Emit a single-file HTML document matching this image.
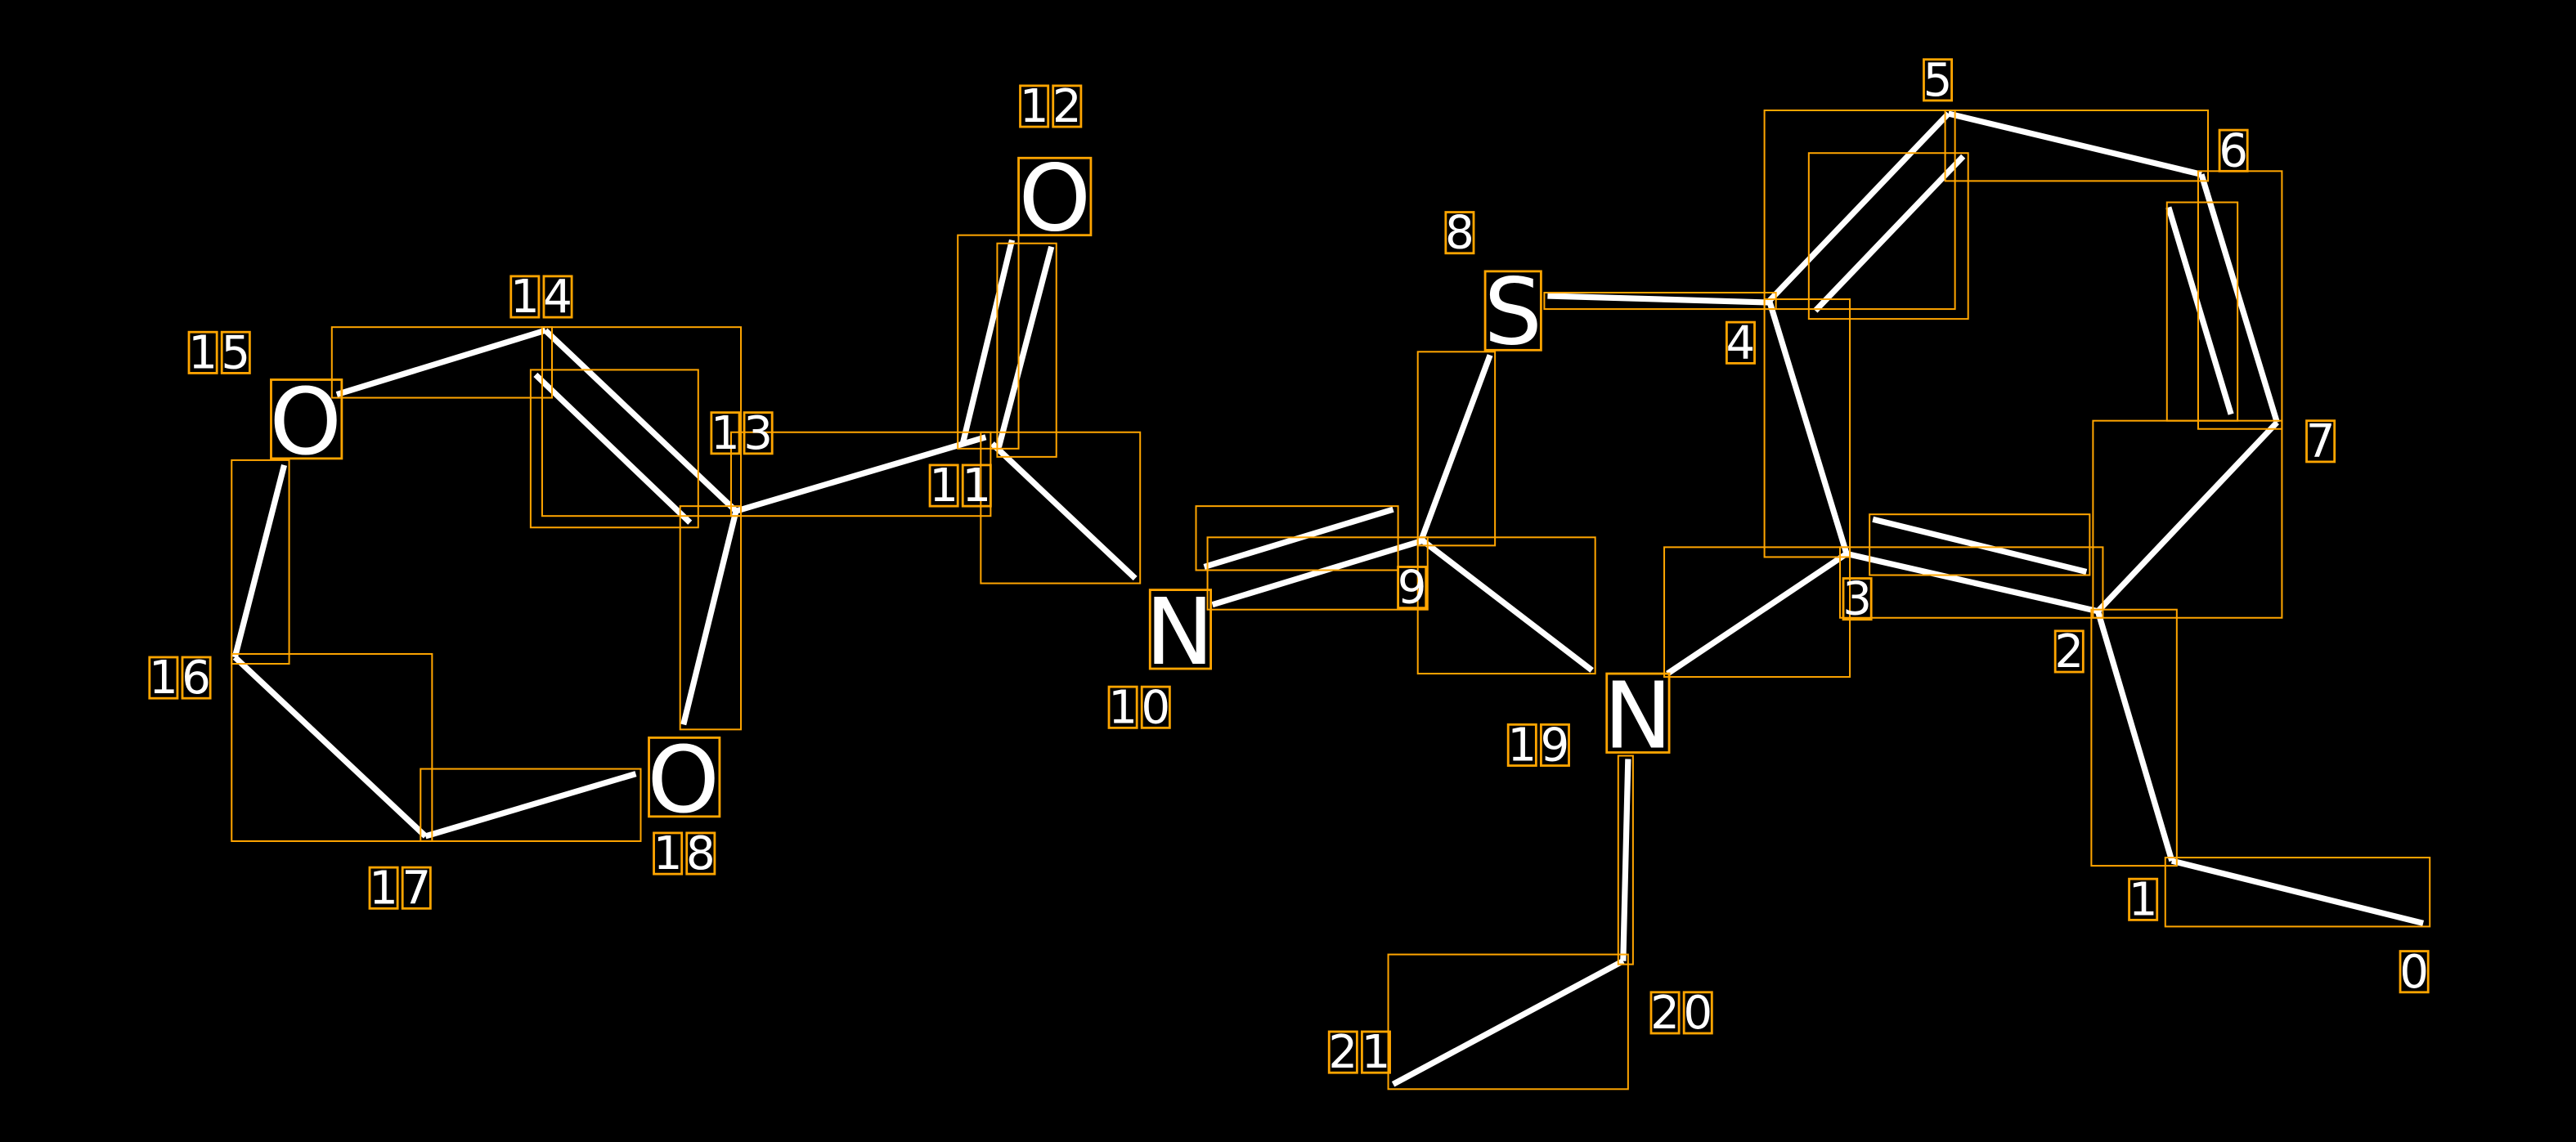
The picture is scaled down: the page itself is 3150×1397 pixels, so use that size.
<!DOCTYPE html>
<html><head><meta charset="utf-8"><style>
html,body{margin:0;padding:0;background:#000;width:3150px;height:1397px;overflow:hidden}
svg{display:block}
</style></head><body>
<svg width="3150" height="1397" viewBox="0 0 1568 695" xmlns="http://www.w3.org/2000/svg">
<rect width="1568" height="695" fill="#000"/>
<g stroke="#fff" stroke-width="3.6" stroke-linecap="butt" fill="none">
<line x1="1475" y1="562" x2="1322" y2="524"/>
<line x1="1322" y1="524" x2="1277" y2="372"/>
<line x1="1277" y1="372" x2="1386" y2="257"/>
<line x1="1386" y1="257" x2="1340" y2="106"/>
<line x1="1320" y1="126" x2="1358" y2="252"/>
<line x1="1340" y1="106" x2="1186" y2="69"/>
<line x1="1186" y1="69" x2="1077" y2="183"/>
<line x1="1195" y1="95" x2="1105" y2="189"/>
<line x1="1077" y1="183" x2="1124" y2="337"/>
<line x1="1124" y1="337" x2="1277" y2="372"/>
<line x1="1140" y1="316" x2="1270" y2="348"/>
<line x1="942" y1="180" x2="1077" y2="184"/>
<line x1="907" y1="216" x2="865" y2="329"/>
<line x1="866" y1="329" x2="738" y2="368"/>
<line x1="733" y1="345" x2="848" y2="310"/>
<line x1="866" y1="329" x2="969" y2="408"/>
<line x1="1124" y1="337" x2="1015" y2="410"/>
<line x1="991" y1="462" x2="988" y2="585"/>
<line x1="988" y1="585" x2="848" y2="660"/>
<line x1="586" y1="270" x2="616" y2="146"/>
<line x1="608" y1="272" x2="640" y2="150"/>
<line x1="600" y1="266" x2="448" y2="311"/>
<line x1="604" y1="270" x2="691" y2="352"/>
<line x1="448" y1="311" x2="332" y2="201"/>
<line x1="326" y1="228" x2="420" y2="318"/>
<line x1="332" y1="201" x2="205" y2="240"/>
<line x1="173" y1="283" x2="143" y2="400"/>
<line x1="143" y1="400" x2="259" y2="509"/>
<line x1="259" y1="509" x2="387" y2="471"/>
<line x1="448" y1="311" x2="416" y2="441"/>
</g>
<g stroke="#ffa500" stroke-width="1" fill="none">
<rect x="1318" y="522" width="161" height="42"/>
<rect x="1273" y="371" width="52" height="156"/>
<rect x="1274" y="256" width="115" height="120"/>
<rect x="1338" y="104" width="51" height="157"/>
<rect x="1319" y="123" width="43" height="133"/>
<rect x="1184" y="67" width="160" height="43"/>
<rect x="1074" y="67" width="116" height="121"/>
<rect x="1101" y="93" width="97" height="101"/>
<rect x="1074" y="182" width="52" height="157"/>
<rect x="940" y="178" width="141" height="10"/>
<rect x="1120" y="333" width="160" height="43"/>
<rect x="1138" y="313" width="134" height="37"/>
<rect x="863" y="214" width="47" height="118"/>
<rect x="728" y="308" width="123" height="39"/>
<rect x="735" y="327" width="134" height="44"/>
<rect x="863" y="327" width="108" height="83"/>
<rect x="1013" y="333" width="113" height="79"/>
<rect x="985" y="460" width="9" height="127"/>
<rect x="845" y="581" width="146" height="82"/>
<rect x="583" y="143" width="37" height="130"/>
<rect x="607" y="148" width="36" height="130"/>
<rect x="445" y="263" width="158" height="51"/>
<rect x="597" y="263" width="97" height="92"/>
<rect x="330" y="199" width="121" height="115"/>
<rect x="323" y="225" width="102" height="96"/>
<rect x="202" y="199" width="134" height="43"/>
<rect x="141" y="280" width="35" height="124"/>
<rect x="141" y="398" width="122" height="114"/>
<rect x="256" y="468" width="134" height="44"/>
<rect x="414" y="308" width="37" height="136"/>
</g>
<g stroke="#ffa500" stroke-width="1.4" fill="none">
<rect x="620" y="96" width="44" height="47"/>
<rect x="904" y="165" width="34" height="48"/>
<rect x="700" y="359" width="37" height="48"/>
<rect x="978" y="410" width="38" height="48"/>
<rect x="165" y="231" width="43" height="48"/>
<rect x="395" y="449" width="43" height="48"/>
</g>
<g fill="#fff" font-family="DejaVu Sans, Liberation Sans, sans-serif" font-size="56" text-anchor="middle">
<text x="642" y="140">O</text>
<text x="921" y="209">S</text>
<text x="718" y="404">N</text>
<text x="997" y="455">N</text>
<text x="186" y="276">O</text>
<text x="416" y="494">O</text>
</g>
<g stroke="#ffa500" stroke-width="1.4" fill="none">
<rect x="1461" y="579" width="17" height="25"/>
<rect x="1296" y="535" width="17" height="25"/>
<rect x="1251" y="384" width="17" height="25"/>
<rect x="1122" y="352" width="17" height="25"/>
<rect x="1051" y="196" width="17" height="25"/>
<rect x="1171" y="36" width="17" height="25"/>
<rect x="1351" y="79" width="17" height="25"/>
<rect x="1404" y="256" width="17" height="25"/>
<rect x="880" y="129" width="17" height="25"/>
<rect x="851" y="345" width="17" height="25"/>
<rect x="675" y="418" width="17" height="25"/><rect x="695" y="418" width="17" height="25"/>
<rect x="566" y="283" width="17" height="25"/><rect x="586" y="283" width="17" height="25"/>
<rect x="621" y="52" width="17" height="25"/><rect x="641" y="52" width="17" height="25"/>
<rect x="433" y="251" width="17" height="25"/><rect x="453" y="251" width="17" height="25"/>
<rect x="311" y="168" width="17" height="25"/><rect x="331" y="168" width="17" height="25"/>
<rect x="115" y="202" width="17" height="25"/><rect x="135" y="202" width="17" height="25"/>
<rect x="91" y="400" width="17" height="25"/><rect x="111" y="400" width="17" height="25"/>
<rect x="225" y="528" width="17" height="25"/><rect x="245" y="528" width="17" height="25"/>
<rect x="398" y="507" width="17" height="25"/><rect x="418" y="507" width="17" height="25"/>
<rect x="918" y="441" width="17" height="25"/><rect x="938" y="441" width="17" height="25"/>
<rect x="1005" y="604" width="17" height="25"/><rect x="1025" y="604" width="17" height="25"/>
<rect x="809" y="628" width="17" height="25"/><rect x="829" y="628" width="17" height="25"/>
</g>
<g fill="#fff" font-family="DejaVu Sans, Liberation Sans, sans-serif" font-size="28" text-anchor="middle">
<text x="1469.5" y="601">0</text>
<text x="1304.5" y="557">1</text>
<text x="1259.5" y="406">2</text>
<text x="1130.5" y="374">3</text>
<text x="1059.5" y="218">4</text>
<text x="1179.5" y="58">5</text>
<text x="1359.5" y="101">6</text>
<text x="1412.5" y="278">7</text>
<text x="888.5" y="151">8</text>
<text x="859.5" y="367">9</text>
<text x="683.5" y="440">1</text><text x="703.5" y="440">0</text>
<text x="574.5" y="305">1</text><text x="594.5" y="305">1</text>
<text x="629.5" y="74">1</text><text x="649.5" y="74">2</text>
<text x="441.5" y="273">1</text><text x="461.5" y="273">3</text>
<text x="319.5" y="190">1</text><text x="339.5" y="190">4</text>
<text x="123.5" y="224">1</text><text x="143.5" y="224">5</text>
<text x="99.5" y="422">1</text><text x="119.5" y="422">6</text>
<text x="233.5" y="550">1</text><text x="253.5" y="550">7</text>
<text x="406.5" y="529">1</text><text x="426.5" y="529">8</text>
<text x="926.5" y="463">1</text><text x="946.5" y="463">9</text>
<text x="1013.5" y="626">2</text><text x="1033.5" y="626">0</text>
<text x="817.5" y="650">2</text><text x="837.5" y="650">1</text>
</g>
</svg>
</body></html>
